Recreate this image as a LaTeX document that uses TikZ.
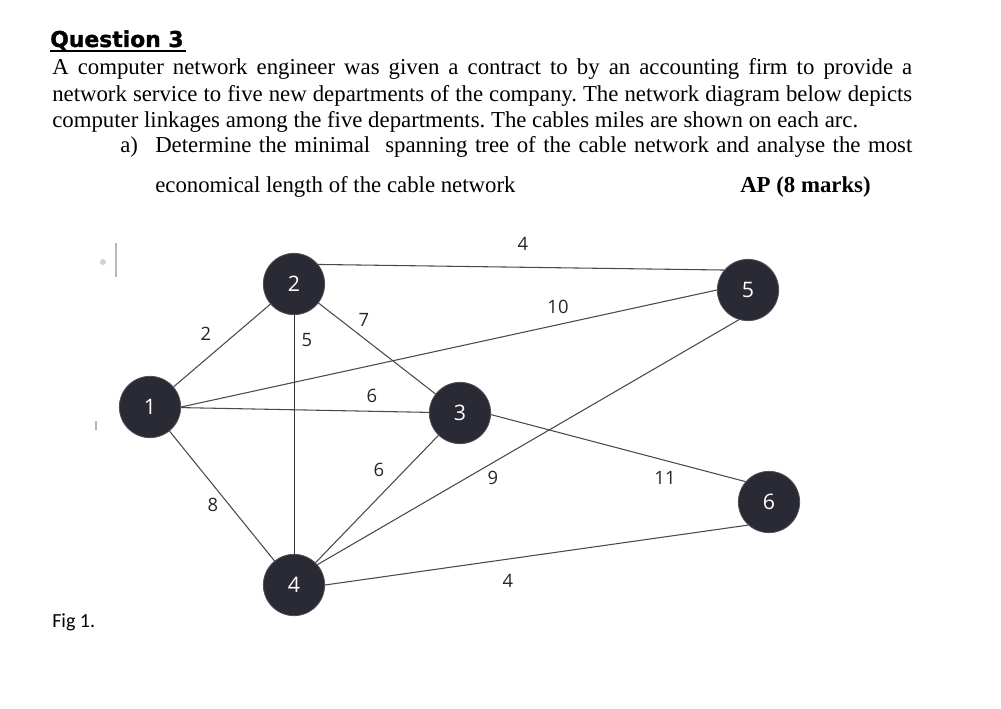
\documentclass[tikz,border=0pt]{standalone}
\usepackage{fontspec}
\setmainfont{Liberation Serif}
\newfontfamily\qfont[FakeBold=1.2]{DejaVu Sans Bold}
\newfontfamily\lblfont{Open Sans}
\newfontfamily\figfont{Carlito}
\definecolor{nodefill}{HTML}{2A2A34}
\definecolor{nodeedge}{HTML}{50505A}
\definecolor{edgecol}{HTML}{4A4A4A}
\definecolor{labelcol}{HTML}{262626}
\frenchspacing
\begin{document}
\begin{tikzpicture}[x=0.75pt,y=-0.75pt,
  dept/.style={circle,fill=nodefill,draw=nodeedge,line width=0.6pt,minimum size=46pt,inner sep=0pt,text=white,font=\lblfont\fontsize{16pt}{16pt}\selectfont},
  link/.style={draw=edgecol,line width=0.8pt},
  wt/.style={text=labelcol,inner sep=0pt,font=\lblfont\fontsize{13.8pt}{13.8pt}\selectfont},
  txt/.style={anchor=base west,inner sep=0pt,font=\fontsize{17.1pt}{20pt}\selectfont}]
\useasboundingbox (0,0) rectangle (1001,709);
\fill[white] (0,0) rectangle (1001,709);
% header
\node[anchor=base west,inner sep=0pt,font=\qfont\fontsize{16.4pt}{18pt}\selectfont] (q) at (50,47) {Question 3};
\draw[line width=1.2pt] (50,50.8) -- (186,50.8);
\node[txt] (l1) at (52,75) {\makebox[645pt][s]{A computer network engineer was given a contract to by an accounting firm to provide a}};
\node[txt] (l2) at (52,101.5) {\makebox[645pt][s]{network service to five new departments of the company. The network diagram below depicts}};
\node[txt] (l3) at (52,128) {computer linkages among the five departments. The cables miles are shown on each arc.};
\node[txt] (l4a) at (120,153) {a)};
\node[txt] (l4) at (155,153) {\makebox[567.75pt][s]{Determine the minimal\ \ spanning tree of the cable network and analyse the most}};
\node[txt] (l5) at (155,193) {economical length of the cable network};
\node[txt] (ap) at (740,193) {\bfseries AP (8 marks)};
% stray marks
\fill[gray!35] (103,262) circle (3);
\draw[gray!55,line width=1.4pt] (116,243) -- (116,277);
\draw[gray!60,line width=0.9pt] (96,421) -- (96,430);
% nodes
\node[dept] (n1) at (150,407) {1};
\node[dept] (n2) at (294,284) {2};
\node[dept] (n3) at (460,413) {3};
\node[dept] (n4) at (294,585) {4};
\node[dept] (n5) at (748,290) {5};
\node[dept] (n6) at (769,502) {6};
% links
\draw[link] (n1) -- (n2);
\draw[link,draw=black!80,line width=0.7pt] (n2) -- (n4);
\draw[link] (n2) -- (n3);
\draw[link] (n2.39) -- (n5.140);
\draw[link] (n1.0) -- (n5.180);
\draw[link] (n1) -- (n3);
\draw[link] (n1) -- (n4);
\draw[link] (n3) -- (n4);
\draw[link] (n4.41) -- (n5.-107);
\draw[link] (n3.-3) -- (n6.139);
\draw[link] (n4.0) -- (n6.-132);
% weights
\node[wt] (w12) at (206,334) {2};
\node[wt] (w24) at (307,340) {5};
\node[wt] (w23) at (364,320) {7};
\node[wt] (w25) at (523,244) {4};
\node[wt] (w15) at (558,307) {10};
\node[wt] (w13) at (372,396) {6};
\node[wt] (w14) at (213,505) {8};
\node[wt] (w34) at (379,470) {6};
\node[wt] (w45) at (493,478) {9};
\node[wt] (w46) at (508,581) {4};
\node[wt] (w36) at (665,478) {11};
% caption
\node[anchor=base west,inner sep=0pt,font=\figfont\fontsize{15pt}{17pt}\selectfont] (fig) at (52,628) {Fig 1.};
\end{tikzpicture}
\end{document}
